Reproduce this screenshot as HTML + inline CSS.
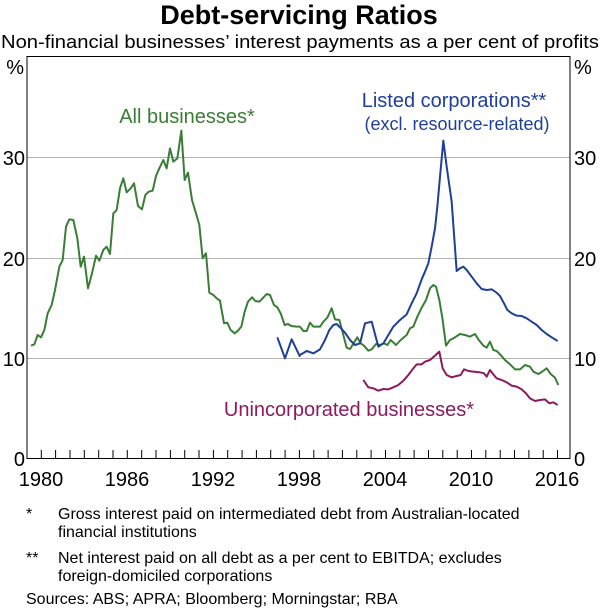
<!DOCTYPE html>
<html><head><meta charset="utf-8"><style>
body{margin:0;background:#fff;}
svg{display:block;font-family:"Liberation Sans",Arial,sans-serif;}
</style></head><body>
<svg width="600" height="609" viewBox="0 0 600 609" xmlns="http://www.w3.org/2000/svg">
<text x="299" y="24" text-anchor="middle" font-size="27" font-weight="bold">Debt-servicing Ratios</text>
<text x="300" y="48" text-anchor="middle" font-size="18" textLength="598" lengthAdjust="spacingAndGlyphs">Non-financial businesses’ interest payments as a per cent of profits</text>
<g stroke="#b3b3b3" stroke-width="1">
<line x1="27" y1="157.5" x2="570" y2="157.5"/>
<line x1="27" y1="258.5" x2="570" y2="258.5"/>
<line x1="27" y1="358.5" x2="570" y2="358.5"/>
</g>
<rect x="27" y="56.5" width="543" height="402" fill="none" stroke="#000" stroke-width="1"/>
<g stroke="#000" stroke-width="1">
<line x1="41.3" y1="458" x2="41.3" y2="450"/><line x1="55.6" y1="458" x2="55.6" y2="450"/><line x1="70.0" y1="458" x2="70.0" y2="450"/><line x1="84.3" y1="458" x2="84.3" y2="450"/><line x1="98.7" y1="458" x2="98.7" y2="450"/><line x1="113.0" y1="458" x2="113.0" y2="450"/><line x1="127.3" y1="458" x2="127.3" y2="450"/><line x1="141.7" y1="458" x2="141.7" y2="450"/><line x1="156.0" y1="458" x2="156.0" y2="450"/><line x1="170.4" y1="458" x2="170.4" y2="450"/><line x1="184.7" y1="458" x2="184.7" y2="450"/><line x1="199.0" y1="458" x2="199.0" y2="450"/><line x1="213.4" y1="458" x2="213.4" y2="450"/><line x1="227.7" y1="458" x2="227.7" y2="450"/><line x1="242.1" y1="458" x2="242.1" y2="450"/><line x1="256.4" y1="458" x2="256.4" y2="450"/><line x1="270.7" y1="458" x2="270.7" y2="450"/><line x1="285.1" y1="458" x2="285.1" y2="450"/><line x1="299.4" y1="458" x2="299.4" y2="450"/><line x1="313.8" y1="458" x2="313.8" y2="450"/><line x1="328.1" y1="458" x2="328.1" y2="450"/><line x1="342.4" y1="458" x2="342.4" y2="450"/><line x1="356.8" y1="458" x2="356.8" y2="450"/><line x1="371.1" y1="458" x2="371.1" y2="450"/><line x1="385.5" y1="458" x2="385.5" y2="450"/><line x1="399.8" y1="458" x2="399.8" y2="450"/><line x1="414.1" y1="458" x2="414.1" y2="450"/><line x1="428.5" y1="458" x2="428.5" y2="450"/><line x1="442.8" y1="458" x2="442.8" y2="450"/><line x1="457.2" y1="458" x2="457.2" y2="450"/><line x1="471.5" y1="458" x2="471.5" y2="450"/><line x1="485.8" y1="458" x2="485.8" y2="450"/><line x1="500.2" y1="458" x2="500.2" y2="450"/><line x1="514.5" y1="458" x2="514.5" y2="450"/><line x1="528.9" y1="458" x2="528.9" y2="450"/><line x1="543.2" y1="458" x2="543.2" y2="450"/><line x1="557.5" y1="458" x2="557.5" y2="450"/>
</g>
<g font-size="20" fill="#000">
<text x="24" y="74" text-anchor="end">%</text>
<text x="25" y="165" text-anchor="end">30</text>
<text x="25" y="266" text-anchor="end">20</text>
<text x="25" y="366" text-anchor="end">10</text>
<text x="25" y="466" text-anchor="end">0</text>
<text x="574" y="74">%</text>
<text x="574" y="165">30</text>
<text x="574" y="266">20</text>
<text x="574" y="366">10</text>
<text x="574" y="466">0</text>
<text x="41" y="486" text-anchor="middle">1980</text>
<text x="127" y="486" text-anchor="middle">1986</text>
<text x="213" y="486" text-anchor="middle">1992</text>
<text x="299" y="486" text-anchor="middle">1998</text>
<text x="385" y="486" text-anchor="middle">2004</text>
<text x="471" y="486" text-anchor="middle">2010</text>
<text x="557" y="486" text-anchor="middle">2016</text>
</g>
<g fill="none" stroke-width="2" stroke-linejoin="round">
<g transform="translate(0,50) scale(0.33333)">
<polyline vector-effect="non-scaling-stroke" stroke="#3a7d35" points="93,887 103,883 113,855 123,862 133,840 143,790 155,765 165,720 178,650 188,630 198,530 208,508 220,510 232,565 242,650 252,620 264,715 276,670 288,617 298,632 310,600 320,590 330,612 340,490 350,480 360,415 370,385 380,427 392,415 402,400 414,468 426,478 436,435 446,425 458,422 468,378 478,355 490,330 500,355 510,295 520,335 532,325 544,242 554,390 564,368 576,450 588,490 598,525 608,625 618,610 628,728 640,735 650,745 660,752 672,820 682,818 692,840 704,850 714,842 724,830 734,785 744,755 756,742 766,753 778,755 788,745 800,732 810,735 822,765 832,772 842,790 854,825 864,822 874,828 890,830 900,830"/>
<polyline vector-effect="non-scaling-stroke" stroke="#1f3f99" points="832,862 855,925 875,868 900,920"/>
</g>
<g transform="translate(300,50) scale(0.33333)">
<polyline vector-effect="non-scaling-stroke" stroke="#3a7d35" points="0,830 10,843 20,843 30,818 40,830 60,830 70,815 82,803 95,775 105,808 118,810 130,855 140,893 150,897 162,878 172,862 182,880 192,887 205,902 215,898 228,882 240,885 252,880 262,885 272,870 288,885 302,870 320,855 330,835 340,830 352,800 364,775 378,750 390,715 400,705 408,710 418,750 428,810 438,887 450,870 465,862 480,852 495,855 510,860 525,852 535,868 550,887 560,893 570,875 580,900 590,903 600,913 615,930 630,943 645,958 660,958 675,945 690,950 700,965 715,972 725,966 740,955 752,972 765,983 775,1005"/>
<polyline vector-effect="non-scaling-stroke" stroke="#1f3f99" points="0,915 20,903 40,910 60,898 75,870 88,840 100,825 110,822 120,832 135,848 150,870 165,885 180,880 195,820 215,815 235,890 250,880 265,855 280,830 300,810 320,793 335,760 350,730 365,688 375,665 385,640 395,590 405,535 412,470 420,380 430,272 440,350 455,455 470,663 480,655 490,650 500,660 515,680 530,700 545,717 560,720 575,718 590,728 600,738 612,760 622,780 635,790 650,797 665,798 680,805 695,815 710,825 725,840 740,852 755,862 773,873"/>
<polyline vector-effect="non-scaling-stroke" stroke="#8b1a5e" points="190,990 205,1012 220,1015 235,1022 250,1017 265,1018 280,1012 295,1005 310,992 325,975 340,955 350,943 365,943 375,935 390,930 405,917 418,905 428,955 440,975 455,982 470,978 482,975 492,958 505,963 520,965 540,967 552,970 560,980 570,960 580,973 590,985 605,990 620,997 635,1007 650,1010 665,1018 678,1030 690,1045 705,1053 720,1050 735,1048 748,1060 760,1057 773,1065"/>
</g>
</g>
<g font-size="20">
<text x="187" y="123" text-anchor="middle" fill="#3a7d35">All businesses*</text>
<text x="454" y="107" text-anchor="middle" fill="#1f3f99">Listed corporations**</text>
<text x="457" y="130" text-anchor="middle" fill="#1f3f99" font-size="18">(excl. resource-related)</text>
<text x="349" y="416" text-anchor="middle" fill="#8b1a5e">Unincorporated businesses*</text>
</g>
<g font-size="16" fill="#000">
<text x="26" y="519">*</text>
<text x="58" y="519">Gross interest paid on intermediated debt from Australian-located</text>
<text x="58" y="537">financial institutions</text>
<text x="26" y="563">**</text>
<text x="58" y="563">Net interest paid on all debt as a per cent to EBITDA; excludes</text>
<text x="58" y="581">foreign-domiciled corporations</text>
<text x="26" y="604">Sources:  ABS; APRA; Bloomberg; Morningstar; RBA</text>
</g>
</svg>
</body></html>
